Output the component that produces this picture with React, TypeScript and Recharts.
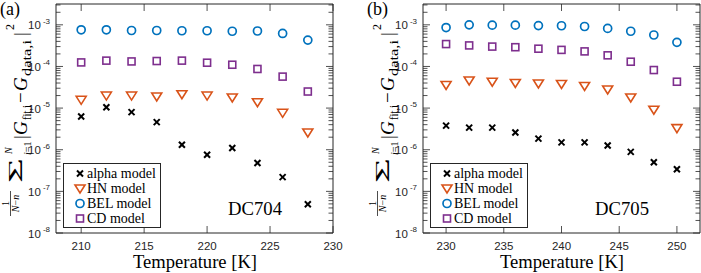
import { Legend, ReferenceLine, Scatter, ScatterChart, XAxis, YAxis } from 'recharts'

// DC704 panel
const dc704Temps = [210, 212, 214, 216, 218, 220, 222, 224, 226, 228]
const dc704Alpha = [6.3e-6, 1.05e-5, 8e-6, 4.6e-6, 1.32e-6, 7.6e-7, 1.1e-6, 4.8e-7, 2.2e-7, 4.9e-8]
const dc704HN = [1.58e-5, 2.0e-5, 2.0e-5, 1.9e-5, 2.15e-5, 2.0e-5, 1.8e-5, 1.38e-5, 7.7e-6, 2.6e-6]
const dc704BEL = [7.6e-4, 7.6e-4, 7.3e-4, 7.3e-4, 7.2e-4, 7.2e-4, 7.0e-4, 7.1e-4, 6.2e-4, 4.3e-4]
const dc704CD = [1.25e-4, 1.38e-4, 1.32e-4, 1.35e-4, 1.38e-4, 1.23e-4, 1.1e-4, 8.7e-5, 5.7e-5, 2.5e-5]

// DC705 panel
const dc705Temps = [230, 232, 234, 236, 238, 240, 242, 244, 246, 248, 250]
const dc705Alpha = [3.8e-6, 3.4e-6, 3.4e-6, 2.6e-6, 1.85e-6, 1.5e-6, 1.5e-6, 1.26e-6, 8.9e-7, 5.0e-7, 3.4e-7]
const dc705HN = [3.6e-5, 4.6e-5, 4.3e-5, 4.0e-5, 3.9e-5, 3.8e-5, 3.4e-5, 2.8e-5, 1.8e-5, 9.1e-6, 3.3e-6]
const dc705BEL = [8.6e-4, 1.0e-3, 9.8e-4, 9.8e-4, 9.6e-4, 9.5e-4, 9.1e-4, 8.2e-4, 7.0e-4, 5.7e-4, 3.8e-4]
const dc705CD = [3.45e-4, 3.2e-4, 3.0e-4, 2.9e-4, 2.67e-4, 2.5e-4, 2.3e-4, 1.85e-4, 1.3e-4, 8.2e-5, 4.3e-5]

const dc704XTicks = [210, 215, 220, 225, 230]
const dc705XTicks = [230, 235, 240, 245, 250]
const yMajorTicks = [1e-8, 1e-7, 1e-6, 1e-5, 1e-4, 1e-3]
const yTop = 0.0031623

const legendLabels = ['alpha model', 'HN model', 'BEL model', 'CD model']

const AXIS = '#262626'
const BLUE = '#0072BD'
const ORANGE = '#D95319'
const PURPLE = '#7E2F8E'
const PLOT_W = 277
const PLOT_H = 229

// minor log ticks (2..9 x each decade)
const yTicks: number[] = []
yMajorTicks.forEach((d) => {
  for (let m = 1; m <= 9; m++) {
    const v = Number((m * d).toPrecision(3))
    if (v <= yTop) yTicks.push(v)
  }
})

const toPoints = (temps: number[], vals: number[]) => temps.map((t, i) => ({ t, v: vals[i] }))

function AlphaMark({ cx, cy }: any) {
  return (
    <g stroke="#000" strokeWidth={2}>
      <line x1={cx - 3} y1={cy - 3} x2={cx + 3} y2={cy + 3} />
      <line x1={cx - 3} y1={cy + 3} x2={cx + 3} y2={cy - 3} />
    </g>
  )
}

function HNMark({ cx, cy }: any) {
  return (
    <polygon
      points={`${cx - 5},${cy - 3.5} ${cx + 5},${cy - 3.5} ${cx},${cy + 4.5}`}
      fill="none"
      stroke={ORANGE}
      strokeWidth={1.6}
    />
  )
}

function BELMark({ cx, cy }: any) {
  return <circle cx={cx} cy={cy} r={4} fill="none" stroke={BLUE} strokeWidth={1.7} />
}

function CDMark({ cx, cy }: any) {
  return <rect x={cx - 3.5} y={cy - 3.5} width={7} height={7} fill="none" stroke={PURPLE} strokeWidth={1.6} />
}

const markers = [AlphaMark, HNMark, BELMark, CDMark]

function YTick({ x, y, payload }: any) {
  const v = payload.value
  const exp = Math.round(Math.log10(v))
  const major = Math.abs(v - 10 ** exp) / v < 1e-6
  const len = major ? 7 : 4.5
  return (
    <g>
      <line x1={x} x2={x + len} y1={y} y2={y} stroke={AXIS} strokeWidth={0.8} />
      <line x1={x + PLOT_W} x2={x + PLOT_W - len} y1={y} y2={y} stroke={AXIS} strokeWidth={0.8} />
      {major && (
        <text x={x - 6} y={y + 4.5} textAnchor="end" fontFamily="Liberation Sans" fontSize={11.5} fill={AXIS}>
          10
          <tspan dx={2} dy={-5.5} fontSize={8}>
            {`${exp}`}
          </tspan>
        </text>
      )}
    </g>
  )
}

function XTick({ x, y, payload }: any) {
  return (
    <g>
      <line x1={x} x2={x} y1={y} y2={y - 7} stroke={AXIS} strokeWidth={0.8} />
      <line x1={x} x2={x} y1={y - PLOT_H} y2={y - PLOT_H + 7} stroke={AXIS} strokeWidth={0.8} />
      <text x={x} y={y + 17} textAnchor="middle" fontFamily="Liberation Sans" fontSize={11.5} fill={AXIS}>
        {payload.value}
      </text>
    </g>
  )
}

function LegendBox() {
  return (
    <svg width={98} height={65} style={{ display: 'block' }}>
      <rect x={0.5} y={0.5} width={97} height={64} fill="#fff" stroke={AXIS} strokeWidth={1} />
      {legendLabels.map((label, i) => {
        const Mark = markers[i]
        const cy = 10.5 + i * 15
        return (
          <g key={label}>
            <Mark cx={17} cy={cy} />
            <text x={24} y={cy + 4.5} fontFamily="Liberation Serif" fontSize={14} fill="#000">
              {label}
            </text>
          </g>
        )
      })}
    </svg>
  )
}

function Panel({
  width,
  marginRight,
  temps,
  series,
  xDomain,
  xTicks
}: {
  width: number
  marginRight: number
  temps: number[]
  series: number[][]
  xDomain: [number, number]
  xTicks: number[]
}) {
  return (
    <ScatterChart width={width} height={273} margin={{ top: 4, right: marginRight, bottom: 0, left: 0 }}>
      <XAxis
        type="number"
        dataKey="t"
        domain={xDomain}
        ticks={xTicks}
        interval={0}
        allowDataOverflow
        height={40}
        tickSize={0}
        tickMargin={0}
        tickLine={false}
        tick={<XTick />}
        axisLine={{ stroke: AXIS, strokeWidth: 1 }}
      />
      <YAxis
        type="number"
        dataKey="v"
        scale="log"
        domain={[1e-8, yTop]}
        ticks={yTicks}
        interval={0}
        allowDataOverflow
        width={56}
        tickSize={0}
        tickMargin={0}
        tickLine={false}
        tick={<YTick />}
        axisLine={{ stroke: AXIS, strokeWidth: 1 }}
      />
      <ReferenceLine x={xDomain[1]} stroke={AXIS} strokeWidth={1} />
      <ReferenceLine y={yTop} stroke={AXIS} strokeWidth={1} />
      <Legend
        layout="vertical"
        align="center"
        verticalAlign="middle"
        wrapperStyle={{ left: 63, top: 163, width: 98, height: 65 }}
        content={() => <LegendBox />}
      />
      {series.map((vals, i) => {
        const Mark = markers[i]
        return (
          <Scatter
            key={legendLabels[i]}
            name={legendLabels[i]}
            data={toPoints(temps, vals)}
            isAnimationActive={false}
            shape={(p: any) => <Mark cx={p.cx} cy={p.cy} />}
          />
        )
      })}
    </ScatterChart>
  )
}

function FitErrorLabel({ x, y }: { x: number; y: number }) {
  return (
    <g transform={`translate(${x},${y}) rotate(-90)`} fontFamily="Liberation Serif" fill="#000">
      <text x={16.5} y={-18.5} fontSize={10} textAnchor="middle">
        1
      </text>
      <line x1={4} x2={29} y1={-16.5} y2={-16.5} stroke="#000" strokeWidth={0.7} />
      <text x={16.5} y={-8.5} fontSize={10} textAnchor="middle">
        <tspan fontStyle="italic">N</tspan>−<tspan fontStyle="italic">n</tspan>
      </text>
      <text x={37} y={-5} fontSize={18} textLength={25} lengthAdjust="spacingAndGlyphs">
        Σ
      </text>
      <text x={66} y={-15} fontSize={10} fontStyle="italic">
        N
      </text>
      <text x={65} y={3.5} fontSize={10}>
        <tspan fontStyle="italic">i</tspan>=1
      </text>
      <text x={81} y={0} fontSize={19}>
        |
      </text>
      <text x={85} y={0} fontSize={19} fontStyle="italic">
        G
      </text>
      <text x={100} y={4} fontSize={12} textLength={15} lengthAdjust="spacingAndGlyphs">
        fit,i
      </text>
      <text x={117} y={0} fontSize={19}>
        −
      </text>
      <text x={129} y={0} fontSize={19} fontStyle="italic">
        G
      </text>
      <text x={144} y={4} fontSize={12} textLength={36} lengthAdjust="spacingAndGlyphs">
        data,i
      </text>
      <text x={184} y={0} fontSize={19}>
        |
      </text>
      <text x={190} y={-13} fontSize={12}>
        2
      </text>
    </g>
  )
}

function Annotations({ dx, panel, sample }: { dx: number; panel: string; sample: string }) {
  return (
    <g transform={`translate(${dx},0)`} fontFamily="Liberation Serif" fill="#000">
      <text x={0} y={15} fontSize={18}>
        {panel}
      </text>
      <FitErrorLabel x={27} y={220} />
      <text x={228} y={215} fontSize={18} textLength={54} lengthAdjust="spacingAndGlyphs">
        {sample}
      </text>
      <text x={133} y={268} fontSize={18.5} textLength={124} lengthAdjust="spacingAndGlyphs">
        Temperature [K]
      </text>
    </g>
  )
}

export default function App() {
  return (
    <div style={{ position: 'absolute', left: 0, top: 0, width: 701, height: 273, background: '#fff' }}>
      <div style={{ position: 'absolute', left: 0, top: 0 }}>
        <Panel
          width={345}
          marginRight={12}
          temps={dc704Temps}
          series={[dc704Alpha, dc704HN, dc704BEL, dc704CD]}
          xDomain={[208, 230]}
          xTicks={dc704XTicks}
        />
      </div>
      <div style={{ position: 'absolute', left: 367, top: 0 }}>
        <Panel
          width={334}
          marginRight={1}
          temps={dc705Temps}
          series={[dc705Alpha, dc705HN, dc705BEL, dc705CD]}
          xDomain={[228, 252]}
          xTicks={dc705XTicks}
        />
      </div>
      <svg width={701} height={273} style={{ position: 'absolute', left: 0, top: 0, pointerEvents: 'none' }}>
        <Annotations dx={0} panel="(a)" sample="DC704" />
        <Annotations dx={367} panel="(b)" sample="DC705" />
      </svg>
    </div>
  )
}
